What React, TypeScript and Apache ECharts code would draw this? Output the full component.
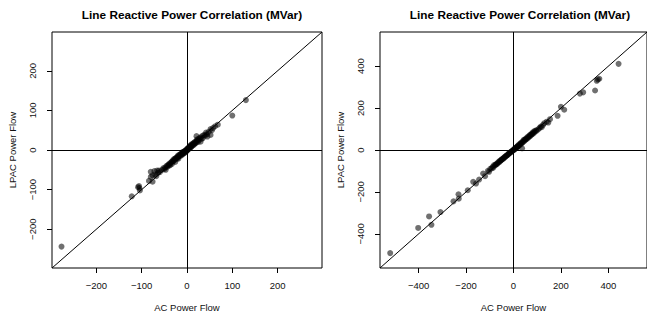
import React, { useEffect, useRef } from "react";
import * as echarts from "echarts";

const titleText = "Line Reactive Power Correlation (MVar)";
const xName = "AC Power Flow";
const yName = "LPAC Power Flow";

const leftRange = [-298, 298];
const rightRange = [-563, 563];
const leftTicks = [-200, -100, 0, 100, 200];
const rightTicks = [-400, -200, 0, 200, 400];

// [AC, LPAC]
const leftPoints: number[][] = [
  [-277, -244], [-122, -117],
  [-106, -91], [-105, -96], [-104, -102], [-108, -94],
  [-84, -78], [-76, -80], [-80, -68], [-80, -55], [-72, -53], [-66, -52], [-64, -58], [-76, -64], [-70, -62], [-62, -52], [-68, -66], [-60, -56],
  [-55, -50], [-52, -46], [-50, -48], [-48, -44], [-47, -50], [-45, -40], [-44, -43], [-42, -38], [-40, -40], [-40, -36],
  [-38, -34], [-37, -38], [-35, -32], [-34, -30], [-33, -35], [-32, -28], [-30, -28], [-30, -24], [-28, -26], [-27, -22],
  [-26, -30], [-25, -22], [-24, -20], [-22, -22], [-22, -18], [-20, -18], [-20, -14], [-19, -22], [-18, -16], [-17, -12],
  [-16, -15], [-15, -12], [-14, -10], [-13, -14], [-12, -9], [-11, -12], [-10, -8], [-10, -5], [-9, -10], [-8, -6],
  [-7, -4], [-6, -8], [-5, -3], [-5, -6], [-4, -2], [-3, -4], [-2, 0], [-2, -3], [-1, -1], [0, 2], [0, -2], [1, 3], [1, 0],
  [2, 4], [3, 2], [4, 6], [4, 3], [5, 8], [6, 5], [7, 10], [8, 6], [8, 12], [9, 8], [10, 14], [11, 10], [12, 13], [13, 16],
  [14, 12], [15, 18], [16, 14], [17, 20], [18, 17], [20, 22], [20, 18], [22, 26], [21, 35], [23, 24], [24, 20], [25, 28],
  [26, 24], [28, 30], [30, 21], [30, 32], [32, 28], [34, 36], [35, 30], [38, 38], [40, 36], [42, 44], [45, 34], [44, 40],
  [48, 46], [52, 38], [52, 53], [55, 50], [58, 56], [62, 60], [68, 64], [100, 87], [130, 126],
];

const rightPoints: number[][] = [
  [-520, -492], [-402, -372], [-346, -357], [-356, -317], [-308, -296], [-253, -245], [-232, -211], [-231, -232],
  [-193, -192], [-170, -152], [-158, -160], [-145, -141], [-128, -112], [-120, -125], [-108, -100], [-103, -104],
  [-98, -90], [-92, -88], [-88, -80], [-85, -84], [-82, -72], [-78, -74], [-75, -70], [-72, -66], [-70, -68], [-66, -62],
  [-64, -58], [-60, -58], [-58, -52], [-55, -52], [-52, -48], [-50, -46], [-48, -44], [-45, -42], [-42, -40], [-40, -36],
  [-38, -35], [-35, -32], [-32, -30], [-30, -27], [-28, -25], [-25, -24], [-22, -20], [-20, -18], [-18, -15], [-15, -14],
  [-12, -10], [-10, -9], [-8, -6], [-5, -5], [-3, -2], [0, 0], [2, 3], [4, 2], [6, 8], [8, 6], [10, 12], [12, 10],
  [14, 15], [16, 14], [18, 20], [20, 18], [22, 24], [25, 22], [28, 30], [30, 28], [32, 34], [35, 32], [36, 8], [38, 40],
  [40, 38], [43, 48], [45, 42], [48, 50], [50, 48], [52, 54], [55, 52], [58, 60], [60, 56], [62, 64], [65, 62], [68, 70],
  [70, 66], [72, 74], [75, 72], [78, 80], [80, 76], [82, 84], [85, 80], [88, 90], [90, 86], [95, 94], [98, 92], [105, 99],
  [110, 106], [115, 112], [119, 109], [125, 120], [130, 128], [140, 135], [147, 131], [154, 147], [186, 163], [200, 206],
  [214, 192], [280, 269], [294, 275], [344, 284], [351, 330], [356, 336], [362, 340], [443, 411],
];

const FONT = "'Liberation Sans', Arial, Helvetica, sans-serif";
const fmt = (v: number) => (v < 0 ? "\u2212" + Math.abs(v) : String(v));

function makeAxis(gridIndex: number, range: number[], ticks: number[], isX: boolean) {
  return {
    type: "value",
    gridIndex,
    min: range[0],
    max: range[1],
    position: isX ? "bottom" : "left",
    name: isX ? xName : yName,
    nameLocation: "middle",
    nameGap: isX ? 34 : 35,
    nameTextStyle: { fontFamily: FONT, fontSize: 9.5, color: "#111" },
    axisLine: { show: false, onZero: false },
    splitLine: { show: false },
    axisTick: {
      show: true,
      inside: false,
      length: 5,
      customValues: ticks,
      lineStyle: { color: "#000", width: 1 },
    },
    axisLabel: {
      show: true,
      customValues: ticks,
      formatter: fmt,
      fontFamily: FONT,
      fontSize: 9.5,
      color: "#111",
      margin: isX ? 12 : 15,
      rotate: isX ? 0 : 90,
      showMinLabel: true,
      showMaxLabel: true,
    },
  };
}

function panelSeries(idx: number, pts: number[][], range: number[]) {
  return [
    {
      type: "scatter",
      xAxisIndex: idx,
      yAxisIndex: idx,
      data: pts,
      symbol: "circle",
      symbolSize: 6,
      itemStyle: { color: "rgba(0,0,0,0.7)" },
      silent: true,
      clip: true,
      markLine: {
        silent: true,
        symbol: ["none", "none"],
        label: { show: false },
        lineStyle: { color: "#000", width: 1, type: "solid" },
        data: [{ xAxis: 0 }, { yAxis: 0 }],
      },
      z: 3,
    },
    {
      type: "line",
      xAxisIndex: idx,
      yAxisIndex: idx,
      data: [
        [range[0], range[0]],
        [range[1], range[1]],
      ],
      showSymbol: false,
      symbol: "none",
      lineStyle: { color: "#000", width: 1 },
      silent: true,
      z: 2,
    },
  ];
}

export default function App() {
  const ref = useRef<HTMLDivElement>(null);
  useEffect(() => {
    if (!ref.current) return;
    const chart = echarts.init(ref.current, null, { renderer: "svg" });
    const titleStyle = { fontFamily: FONT, fontSize: 11.8, fontWeight: "bold", color: "#000" };
    chart.setOption({
      animation: false,
      backgroundColor: "#fff",
      title: [
        { text: titleText, left: 187, top: 4, textAlign: "center", textStyle: titleStyle },
        { text: titleText, left: 515, top: 4, textAlign: "center", textStyle: titleStyle },
      ],
      grid: [
        { left: 52, top: 32, width: 270, height: 236, show: true, borderColor: "#000", borderWidth: 1, backgroundColor: "transparent", containLabel: false },
        { left: 380, top: 32, width: 270, height: 236, show: true, borderColor: "#000", borderWidth: 1, backgroundColor: "transparent", containLabel: false },
      ],
      xAxis: [makeAxis(0, leftRange, leftTicks, true), makeAxis(1, rightRange, rightTicks, true)],
      yAxis: [makeAxis(0, leftRange, leftTicks, false), makeAxis(1, rightRange, rightTicks, false)],
      series: [...panelSeries(0, leftPoints, leftRange), ...panelSeries(1, rightPoints, rightRange)],
    });
    return () => chart.dispose();
  }, []);
  return (
    <div
      ref={ref}
      style={{ position: "absolute", left: 0, top: 0, width: 647, height: 320 }}
    />
  );
}
